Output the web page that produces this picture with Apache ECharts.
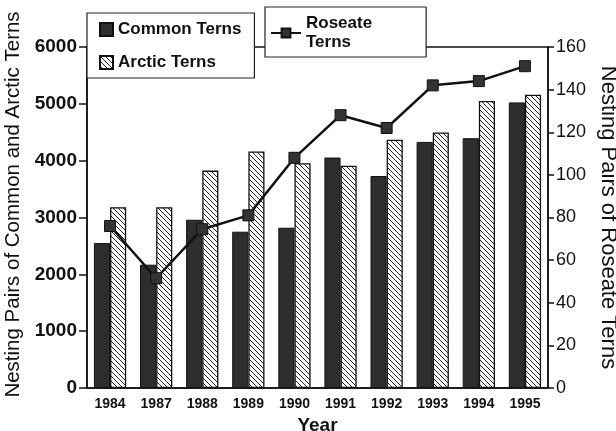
<!DOCTYPE html>
<html><head><meta charset="utf-8">
<script src="https://cdn.jsdelivr.net/npm/echarts@6/dist/echarts.min.js"></script>
<style>html,body{margin:0;padding:0;background:#fff}#c{width:616px;height:431px}</style>
</head><body><div id="c"></div>
<script>
const years = ['1984','1987','1988','1989','1990','1991','1992','1993','1994','1995'];
const commonTerns = [2550, 2170, 2960, 2750, 2820, 4055, 3730, 4330, 4395, 5025];
const arcticTerns = [3180, 3180, 3825, 4160, 3955, 3910, 4370, 4495, 5050, 5160];
const roseateTerns = [76, 51.5, 74.5, 81, 108, 128, 122, 142, 144, 151];

const hatch = document.createElement('canvas');
hatch.width = 5; hatch.height = 5;
const hc = hatch.getContext('2d');
hc.fillStyle = '#fff'; hc.fillRect(0,0,5,5);
hc.strokeStyle = '#222'; hc.lineWidth = 1;
hc.beginPath();
hc.moveTo(-1,-1); hc.lineTo(6,6);
hc.moveTo(-1,4); hc.lineTo(1,6);
hc.moveTo(4,-1); hc.lineTo(6,1);
hc.stroke();

const FONT = 'Liberation Sans, Arial, Helvetica, sans-serif';
const chart = echarts.init(document.getElementById('c'), null, {renderer:'canvas'});
chart.setOption({
  animation: false,
  backgroundColor: '#fff',
  textStyle: {fontFamily: FONT, color: '#111'},
  grid: {left: 87, right: 68, top: 47, bottom: 43, containLabel: false, outerBoundsMode: 'none',
         show: true, borderColor: '#111', borderWidth: 1.5, backgroundColor: 'transparent'},
  legend: [
    {data: ['Common Terns', 'Arctic Terns'], orient: 'vertical', left: 87, top: 13,
     backgroundColor: '#fff', borderColor: '#222', borderWidth: 1.2, padding: [8, 13, 7, 12], itemGap: 16,
     icon: 'rect', itemWidth: 13, itemHeight: 13, itemTextGap: 6,
     textStyle: {fontSize: 17, fontWeight: 'bold', color: '#111', fontFamily: FONT}},
    {data: [{name: 'Roseate Terns'}], left: 265, top: 7, backgroundColor: '#fff', borderColor: '#222', borderWidth: 1.2,
     padding: [7, 54, 5, 5], itemWidth: 30, itemHeight: 11, itemTextGap: 7,
     formatter: () => 'Roseate\nTerns',
     textStyle: {fontSize: 17, fontWeight: 'bold', color: '#111', lineHeight: 19, fontFamily: FONT}}
  ],
  xAxis: {
    type: 'category', data: years,
    axisLine: {lineStyle: {color: '#111', width: 1.5}},
    axisTick: {show: false},
    axisLabel: {fontSize: 14, fontWeight: 'bold', color: '#111', margin: 9},
    name: 'Year', nameLocation: 'middle', nameGap: 28,
    nameTextStyle: {fontSize: 19, fontWeight: 'bold', color: '#111'}
  },
  yAxis: [
    {type: 'value', min: 0, max: 6000, interval: 1000, position: 'left',
     axisLine: {show: true, lineStyle: {color: '#111', width: 1.5}},
     axisTick: {show: true, inside: false, length: 8, lineStyle: {color: '#111', width: 1.5}},
     axisLabel: {fontSize: 19, fontWeight: 'bold', color: '#111', margin: 10, formatter: v => String(v)},
     splitLine: {show: false},
     name: 'Nesting Pairs of Common and Arctic Terns', nameLocation: 'middle', nameGap: 63, nameRotate: 90,
     nameTextStyle: {fontSize: 20.5, color: '#111', padding: [0, 0, 0, 26]}},
    {type: 'value', min: 0, max: 160, interval: 20, position: 'right',
     axisLine: {show: true, lineStyle: {color: '#111', width: 1.5}},
     axisTick: {show: true, inside: false, length: 6, lineStyle: {color: '#111', width: 1.5}},
     axisLabel: {fontSize: 18, color: '#111', margin: 8},
     splitLine: {show: false},
     name: 'Nesting Pairs of Roseate Terns', nameLocation: 'middle', nameGap: 41, nameRotate: -90,
     nameTextStyle: {fontSize: 22, color: '#111'}}
  ],
  series: [
    {name: 'Common Terns', type: 'bar', data: commonTerns, barGap: '0%', barCategoryGap: '30%',
     itemStyle: {color: '#2e2e2e', borderColor: '#111', borderWidth: 1}},
    {name: 'Arctic Terns', type: 'bar', data: arcticTerns,
     itemStyle: {color: {image: hatch, repeat: 'repeat'}, borderColor: '#111', borderWidth: 1.3}},
    {name: 'Roseate Terns', type: 'line', yAxisIndex: 1, data: roseateTerns,
     symbol: 'rect', symbolSize: 11, z: 5,
     lineStyle: {color: '#111', width: 2.5},
     itemStyle: {color: '#333', borderColor: '#111', borderWidth: 1}}
  ]
});
</script></body></html>
